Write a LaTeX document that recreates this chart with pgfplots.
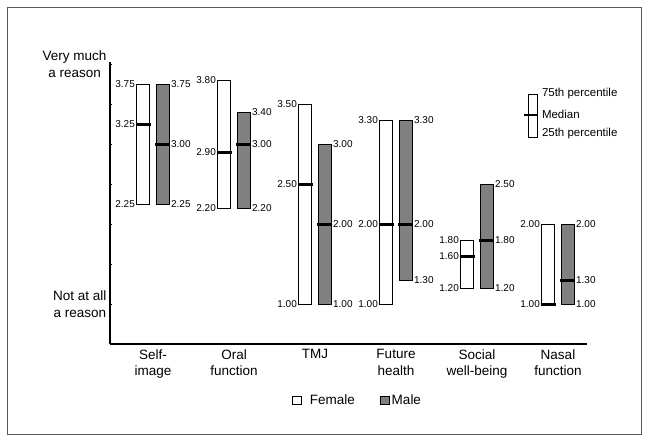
\documentclass[border=0pt]{standalone}
\usepackage{fontspec}
\setmainfont{Liberation Sans}
\usepackage{pgfplots}
\pgfplotsset{compat=1.18}
\usepgfplotslibrary{statistics}
\newcommand\bigf{\fontsize{13.5}{16.5}\selectfont}
\newcommand\keyf{\fontsize{11.5}{13}\selectfont}
\newcommand\valf{\fontsize{10}{11}\selectfont}
\definecolor{malegray}{gray}{0.5}
\pgfplotsset{
  fem/.style={fill=white, draw=black, line width=0.9pt, forget plot},
  mal/.style={fill=malegray, draw=black, line width=0.9pt, forget plot},
}
\begin{document}
\begin{tikzpicture}
\useasboundingbox (0pt,0pt) rectangle (649pt,-440pt);
\draw[black!65, line width=0.7pt] (7pt,-7pt) rectangle (641pt,-434pt);
\begin{axis}[
  at={(110pt,-344pt)}, anchor=south west,
  scale only axis, width=477pt, height=282pt,
  xmin=-0.531, xmax=5.358, ymin=0.5, ymax=4.025,
  axis x line=bottom, axis y line=left, axis line style={-},
  x axis line style={line width=1.2pt},
  y axis line style={line width=1.8pt},
  xtick={0,1,2,3,4,5},
  xticklabels={{Self-\\image},{Oral\\function},{TMJ},{Future\\health},{Social\\well-being},{Nasal\\function}},
  xticklabel style={align=center, font=\bigf, anchor=north, yshift=-2pt},
  x tick style={draw=none},
  ytick={1,4}, yticklabels={{Not at all\\a reason},{Very much\\a reason}},
  minor ytick={1.5,2,2.5,3,3.5},
  yticklabel style={align=center, font=\bigf},
  tick align=inside, major tick length=2pt, minor tick length=2pt,
  y tick style={black, line width=0.5pt},
  clip=false,
  boxplot/draw direction=y,
  boxplot/draw/lower whisker/.code={},
  boxplot/draw/upper whisker/.code={},
  boxplot/draw/median/.code={\draw[line width=3pt,black] (boxplot box cs:\pgfplotsboxplotvalue{median},-0.08) -- (boxplot box cs:\pgfplotsboxplotvalue{median},1.08);},
  legend style={at={(0.381,-0.199)}, anchor=west, draw=none, fill=none, font=\bigf, inner sep=0pt,
    nodes={inner sep=0pt},
    /tikz/every even column/.append style={column sep=25pt}},
  legend columns=2,
  legend image code/.code={\draw[#1, line width=0.9pt] (0pt,-4pt) rectangle (9pt,4pt);},
]
\addlegendimage{fill=white, draw=black}
\addlegendentry{\hspace{8pt}Female}
\addlegendimage{fill=malegray, draw=black}
\addlegendentry{\hspace{2pt}Male}

% Self-image
\addplot[fem, boxplot prepared={draw position=-0.123, lower whisker=2.25, lower quartile=2.25, median=3.25, upper quartile=3.75, upper whisker=3.75, box extend=0.16}] coordinates {};
\addplot[mal, boxplot prepared={draw position=0.123, lower whisker=2.25, lower quartile=2.25, median=3.00, upper quartile=3.75, upper whisker=3.75, box extend=0.16}] coordinates {};
% Oral function
\addplot[fem, boxplot prepared={draw position=0.877, lower whisker=2.20, lower quartile=2.20, median=2.90, upper quartile=3.80, upper whisker=3.80, box extend=0.16}] coordinates {};
\addplot[mal, boxplot prepared={draw position=1.123, lower whisker=2.20, lower quartile=2.20, median=3.00, upper quartile=3.40, upper whisker=3.40, box extend=0.16}] coordinates {};
% TMJ
\addplot[fem, boxplot prepared={draw position=1.877, lower whisker=1.00, lower quartile=1.00, median=2.50, upper quartile=3.50, upper whisker=3.50, box extend=0.16}] coordinates {};
\addplot[mal, boxplot prepared={draw position=2.123, lower whisker=1.00, lower quartile=1.00, median=2.00, upper quartile=3.00, upper whisker=3.00, box extend=0.16}] coordinates {};
% Future health
\addplot[fem, boxplot prepared={draw position=2.877, lower whisker=1.00, lower quartile=1.00, median=2.00, upper quartile=3.30, upper whisker=3.30, box extend=0.16}] coordinates {};
\addplot[mal, boxplot prepared={draw position=3.123, lower whisker=1.30, lower quartile=1.30, median=2.00, upper quartile=3.30, upper whisker=3.30, box extend=0.16}] coordinates {};
% Social well-being
\addplot[fem, boxplot prepared={draw position=3.877, lower whisker=1.20, lower quartile=1.20, median=1.60, upper quartile=1.80, upper whisker=1.80, box extend=0.16}] coordinates {};
\addplot[mal, boxplot prepared={draw position=4.123, lower whisker=1.20, lower quartile=1.20, median=1.80, upper quartile=2.50, upper whisker=2.50, box extend=0.16}] coordinates {};
% Nasal function
\addplot[fem, boxplot prepared={draw position=4.877, lower whisker=1.00, lower quartile=1.00, median=1.00, upper quartile=2.00, upper whisker=2.00, box extend=0.16}] coordinates {};
\addplot[mal, boxplot prepared={draw position=5.123, lower whisker=1.00, lower quartile=1.00, median=1.30, upper quartile=2.00, upper whisker=2.00, box extend=0.16}] coordinates {};

% key
\addplot[fem, boxplot prepared={draw position=4.691, lower whisker=3.0875, lower quartile=3.0875, median=3.3625, upper quartile=3.625, upper whisker=3.625, box extend=0.116},
  boxplot/draw/median/.code={\draw[line width=2.6pt,black] (boxplot box cs:\pgfplotsboxplotvalue{median},-0.45) -- (boxplot box cs:\pgfplotsboxplotvalue{median},1.0);}] coordinates {};
\node[anchor=west, font=\keyf, inner sep=0pt] at (axis cs:4.80,3.634) {75th percentile};
\node[anchor=west, font=\keyf, inner sep=0pt] at (axis cs:4.80,3.375) {Median};
\node[anchor=west, font=\keyf, inner sep=0pt] at (axis cs:4.80,3.125) {25th percentile};

% value labels, female (left of bars)
\addplot[forget plot, draw=none, mark=none, nodes near coords, point meta=explicit symbolic,
  every node near coord/.append style={anchor=east, font=\valf, inner sep=1.5pt}]
  table[x expr=\thisrow{c}-0.203, y=v, meta=lab] {
c v lab
0 3.75 3.75
0 3.25 3.25
0 2.25 2.25
1 3.80 3.80
1 2.90 2.90
1 2.20 2.20
2 3.50 3.50
2 2.50 2.50
2 1.00 1.00
3 3.30 3.30
3 2.00 2.00
3 1.00 1.00
4 1.80 1.80
4 1.60 1.60
4 1.20 1.20
5 2.00 2.00
5 1.00 1.00
};
% value labels, male (right of bars)
\addplot[forget plot, draw=none, mark=none, nodes near coords, point meta=explicit symbolic,
  every node near coord/.append style={anchor=west, font=\valf, inner sep=1.5pt}]
  table[x expr=\thisrow{c}+0.203, y=v, meta=lab] {
c v lab
0 3.75 3.75
0 3.00 3.00
0 2.25 2.25
1 3.40 3.40
1 3.00 3.00
1 2.20 2.20
2 3.00 3.00
2 2.00 2.00
2 1.00 1.00
3 3.30 3.30
3 2.00 2.00
3 1.30 1.30
4 2.50 2.50
4 1.80 1.80
4 1.20 1.20
5 2.00 2.00
5 1.30 1.30
5 1.00 1.00
};
\end{axis}
\end{tikzpicture}
\end{document}
